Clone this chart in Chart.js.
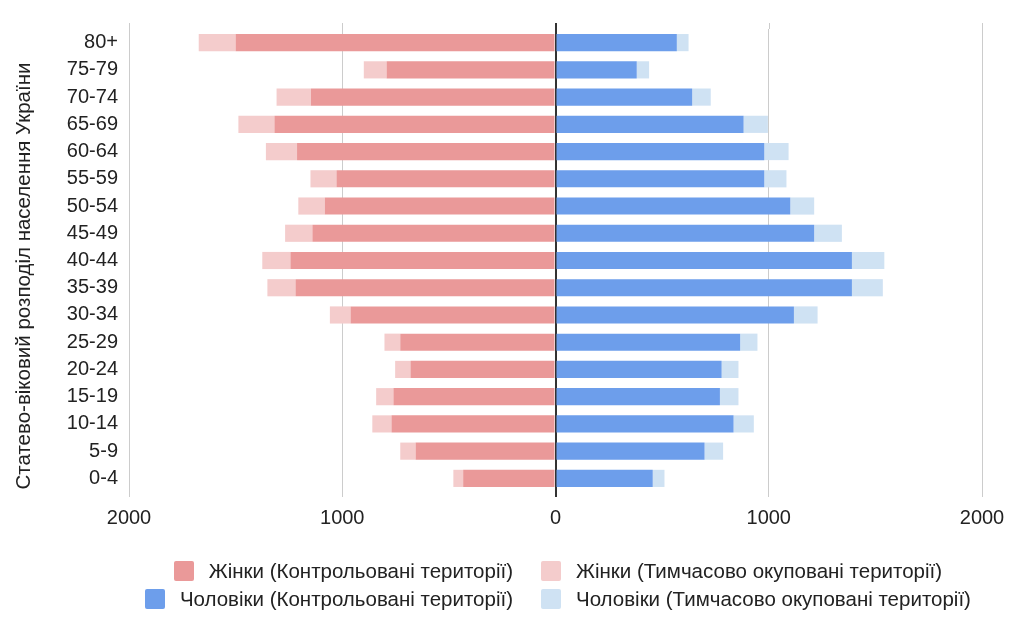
<!DOCTYPE html>
<html lang="uk">
<head>
<meta charset="utf-8">
<script src="https://cdn.jsdelivr.net/npm/chart.js@4"></script>
<style>
    html, body { margin: 0; padding: 0; background: #fff; }
    #wrap { position: relative; width: 1024px; height: 626px; }
    #legend {
        position: absolute;
        left: 0;
        top: 557px;
        display: grid;
        grid-template-columns: 513px auto;
        column-gap: 28px;
        font-family: "Liberation Sans", Arial, sans-serif;
        font-size: 20.5px;
        color: #222;
    }
    .legend-item { display: flex; align-items: center; height: 28px; }
    .legend-item:nth-child(odd) { justify-self: end; }
    .legend-box { width: 20px; height: 20px; border-radius: 2px; margin-right: 15px; }
</style>
</head>
<body>
<div id="wrap">
    <canvas id="pyramid" width="1024" height="626"></canvas>
    <div id="legend"></div>
</div>
<script>
const ageGroups = ['80+', '75-79', '70-74', '65-69', '60-64', '55-59', '50-54', '45-49', '40-44',
    '35-39', '30-34', '25-29', '20-24', '15-19', '10-14', '5-9', '0-4'];

// жінки — малюються вліво (від'ємні значення)
const womenControlled = [1500, 792, 1147, 1318, 1212, 1027, 1082, 1140, 1243, 1219, 961, 728, 680, 760, 769, 656, 433];
const womenOccupied = [173, 107, 161, 169, 146, 122, 124, 128, 132, 132, 97, 74, 72, 81, 90, 72, 46];

// чоловіки — вправо
const menControlled = [569, 381, 641, 882, 979, 979, 1101, 1213, 1390, 1390, 1118, 866, 779, 771, 835, 699, 456];
const menOccupied = [55, 58, 87, 114, 114, 104, 112, 130, 152, 145, 111, 81, 79, 87, 95, 87, 55];

const xTicks = [-2000, -1000, 0, 1000, 2000];

const yTitle = 'Статево-віковий розподіл населення України';
const seriesLabels = [
    'Жінки (Контрольовані території)',
    'Жінки (Тимчасово окуповані території)',
    'Чоловіки (Контрольовані території)',
    'Чоловіки (Тимчасово окуповані території)'
];
const seriesColors = ['#ea9999', '#f4cccc', '#6d9eeb', '#cfe2f3'];

const FONT = '"Liberation Sans", Arial, sans-serif';
Chart.defaults.font.family = FONT;
Chart.defaults.font.size = 20;
Chart.defaults.color = '#222';

const datasets = [
    { label: seriesLabels[0], data: womenControlled.map(v => -v), backgroundColor: seriesColors[0] },
    { label: seriesLabels[1], data: womenOccupied.map(v => -v), backgroundColor: seriesColors[1] },
    { label: seriesLabels[2], data: menControlled, backgroundColor: seriesColors[2] },
    { label: seriesLabels[3], data: menOccupied, backgroundColor: seriesColors[3] }
].map(ds => ({ ...ds, categoryPercentage: 1, barPercentage: 0.63 }));

// сітка трохи виходить за верх області графіка + підпис осі Y як у Google Charts
const extrasPlugin = {
    id: 'extras',
    beforeDatasetsDraw(chart) {
        const { ctx, chartArea, scales } = chart;
        ctx.save();
        xTicks.forEach(v => {
            const x = Math.round(scales.x.getPixelForValue(v)) + (v === 0 ? 0 : 0.5);
            ctx.strokeStyle = v === 0 ? '#333' : '#ccc';
            ctx.lineWidth = v === 0 ? 2 : 1;
            ctx.beginPath();
            ctx.moveTo(x, chartArea.top - 6);
            ctx.lineTo(x, chartArea.top);
            ctx.stroke();
        });
        ctx.restore();
    },
    afterDraw(chart) {
        const { ctx } = chart;
        ctx.save();
        ctx.translate(24, 276);
        ctx.rotate(-Math.PI / 2);
        ctx.font = '20.5px ' + FONT;
        ctx.fillStyle = '#222';
        ctx.textAlign = 'center';
        ctx.textBaseline = 'middle';
        ctx.fillText(yTitle, 0, 0);
        ctx.restore();
    }
};

const ctx = document.getElementById('pyramid').getContext('2d');
new Chart(ctx, {
    type: 'bar',
    data: { labels: ageGroups, datasets },
    plugins: [extrasPlugin],
    options: {
        indexAxis: 'y',
        responsive: false,
        animation: false,
        layout: { padding: { top: 29, right: 42, bottom: 98, left: 0 } },
        plugins: {
            legend: { display: false },
            tooltip: { enabled: false }
        },
        scales: {
            x: {
                stacked: true,
                min: -2000,
                max: 2000,
                afterBuildTicks: axis => { axis.ticks = xTicks.map(v => ({ value: v })); },
                afterFit: axis => { axis.height = 36; },
                ticks: {
                    padding: 9,
                    maxRotation: 0,
                    callback: v => Math.abs(v)
                },
                grid: {
                    color: c => c.tick && c.tick.value === 0 ? '#333' : '#ccc',
                    lineWidth: c => c.tick && c.tick.value === 0 ? 2 : 1,
                    tickLength: 5
                },
                border: { display: false }
            },
            y: {
                stacked: true,
                afterFit: axis => { axis.width = 129; },
                grid: { display: false, drawTicks: false },
                border: { display: false },
                ticks: { padding: 11 }
            }
        }
    }
});

// легенда у дві колонки, як в оригіналі
const legendEl = document.getElementById('legend');
[0, 1, 2, 3].forEach(i => {
    const item = document.createElement('div');
    item.className = 'legend-item';
    item.innerHTML = `<span class="legend-box" style="background:${seriesColors[i]}"></span><span>${seriesLabels[i]}</span>`;
    legendEl.appendChild(item);
});
</script>
</body>
</html>
